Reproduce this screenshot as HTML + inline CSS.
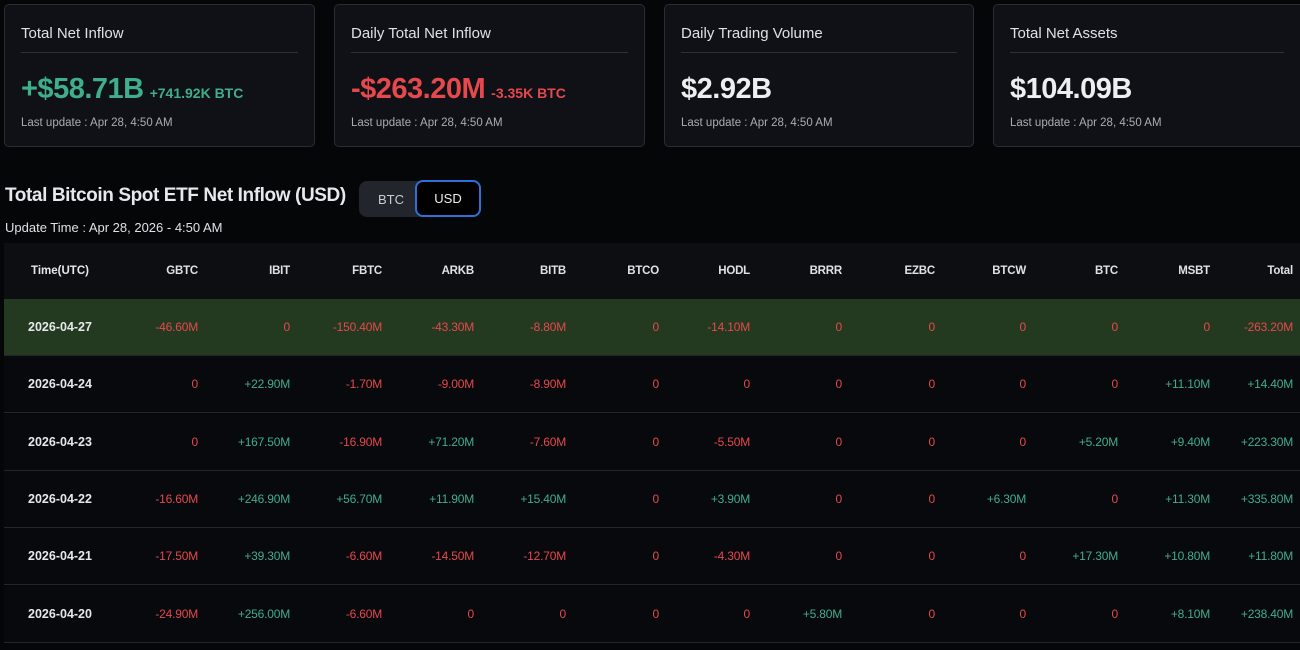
<!DOCTYPE html>
<html><head><meta charset="utf-8"><style>
*{margin:0;padding:0;box-sizing:border-box}
body{width:1300px;height:650px;background:#050608;font-family:"Liberation Sans",sans-serif;color:#e6e8eb;position:relative;overflow:hidden}
.card{position:absolute;top:4px;height:143px;background:#0f1116;border:1px solid #2a2d33;border-radius:5px}
.card .t{position:absolute;left:16px;top:20px;font-size:15px;color:#dfe1e4}
.card .hr{position:absolute;left:16px;right:16px;top:47px;border-top:1px solid #2e3137}
.card .v{position:absolute;left:16px;top:68px;font-size:29px;font-weight:bold;letter-spacing:-0.5px}
.card .s{font-size:14px;margin-left:6px;letter-spacing:0}
.card .u{position:absolute;left:16px;top:112px;font-size:11.5px;color:#a9adb3}
.g{color:#3fae8a}.r{color:#e5484d}
.row{position:absolute;left:4px;width:1296px;height:57px;border-bottom:1px solid #23262b;background:#08090c}
.c{position:absolute;top:0;line-height:57px;font-size:12px;text-align:right;letter-spacing:-0.2px}
.d{position:absolute;left:0;width:112px;text-align:center;line-height:57px;font-size:12.5px;font-weight:bold;color:#e6e8eb}
.h .c{color:#dfe1e4;font-weight:bold;font-size:11.5px}
</style></head><body>
<div class="card" style="left:4px;width:311px"><div class="t">Total Net Inflow</div><div class="hr"></div><div class="v g">+$58.71B<span class="s">+741.92K BTC</span></div><div class="u">Last update : Apr 28, 4:50 AM</div></div>
<div class="card" style="left:334px;width:311px"><div class="t">Daily Total Net Inflow</div><div class="hr"></div><div class="v r">-$263.20M<span class="s">-3.35K BTC</span></div><div class="u">Last update : Apr 28, 4:50 AM</div></div>
<div class="card" style="left:664px;width:310px"><div class="t">Daily Trading Volume</div><div class="hr"></div><div class="v" style="color:#eceef0">$2.92B</div><div class="u">Last update : Apr 28, 4:50 AM</div></div>
<div class="card" style="left:993px;width:315px"><div class="t">Total Net Assets</div><div class="hr" style="right:23px"></div><div class="v" style="color:#eceef0">$104.09B</div><div class="u">Last update : Apr 28, 4:50 AM</div></div>

<div style="position:absolute;left:5px;top:185px;font-size:19px;font-weight:bold;letter-spacing:-0.4px">Total Bitcoin Spot ETF Net Inflow (USD)</div>
<div style="position:absolute;left:359px;top:181px;width:122px;height:36px;background:#22252b;border-radius:8px"></div>
<div style="position:absolute;left:378px;top:192px;font-size:13px;color:#c9ccd0">BTC</div>
<div style="position:absolute;left:415px;top:180px;width:66px;height:37px;background:#000;border:2px solid #2f6fd6;border-radius:8px;text-align:center;line-height:33px;font-size:13px;color:#eceef0">USD</div>
<div style="position:absolute;left:5px;top:220px;font-size:13px;color:#dfe1e4">Update Time : Apr 28, 2026 - 4:50 AM</div>

<div id="tbl"></div>
<script>
const cols=[198,290,382,474,566,659,750,842,935,1026,1118,1210,1293];
const hdr=["GBTC","IBIT","FBTC","ARKB","BITB","BTCO","HODL","BRRR","EZBC","BTCW","BTC","MSBT","Total"];
const rows=[
["2026-04-27","-46.60M","0","-150.40M","-43.30M","-8.80M","0","-14.10M","0","0","0","0","0","-263.20M"],
["2026-04-24","0","+22.90M","-1.70M","-9.00M","-8.90M","0","0","0","0","0","0","+11.10M","+14.40M"],
["2026-04-23","0","+167.50M","-16.90M","+71.20M","-7.60M","0","-5.50M","0","0","0","+5.20M","+9.40M","+223.30M"],
["2026-04-22","-16.60M","+246.90M","+56.70M","+11.90M","+15.40M","0","+3.90M","0","0","+6.30M","0","+11.30M","+335.80M"],
["2026-04-21","-17.50M","+39.30M","-6.60M","-14.50M","-12.70M","0","-4.30M","0","0","0","+17.30M","+10.80M","+11.80M"],
["2026-04-20","-24.90M","+256.00M","-6.60M","0","0","0","0","+5.80M","0","0","0","+8.10M","+238.40M"]];
let h='<div class="row h" style="top:243px;height:56px;background:#0c0e12;border:none"><div class="d" style="font-size:11.5px">Time(UTC)</div>';
hdr.forEach((t,i)=>h+=`<div class="c" style="right:${1296-cols[i]+4}px">${t}</div>`);
h+='</div>';
rows.forEach((r,k)=>{
 const top=299+k*57.3;
 h+=`<div class="row" style="top:${top}px;${k==0?'background:#243a20;':''}"><div class="d">${r[0]}</div>`;
 for(let i=1;i<r.length;i++){const v=r[i];const cl=v.startsWith('+')?'g':'r';
 h+=`<div class="c ${cl}" style="right:${1296-cols[i-1]+4}px">${v}</div>`;}
 h+='</div>';
});
document.getElementById('tbl').innerHTML=h;
</script>
</body></html>
